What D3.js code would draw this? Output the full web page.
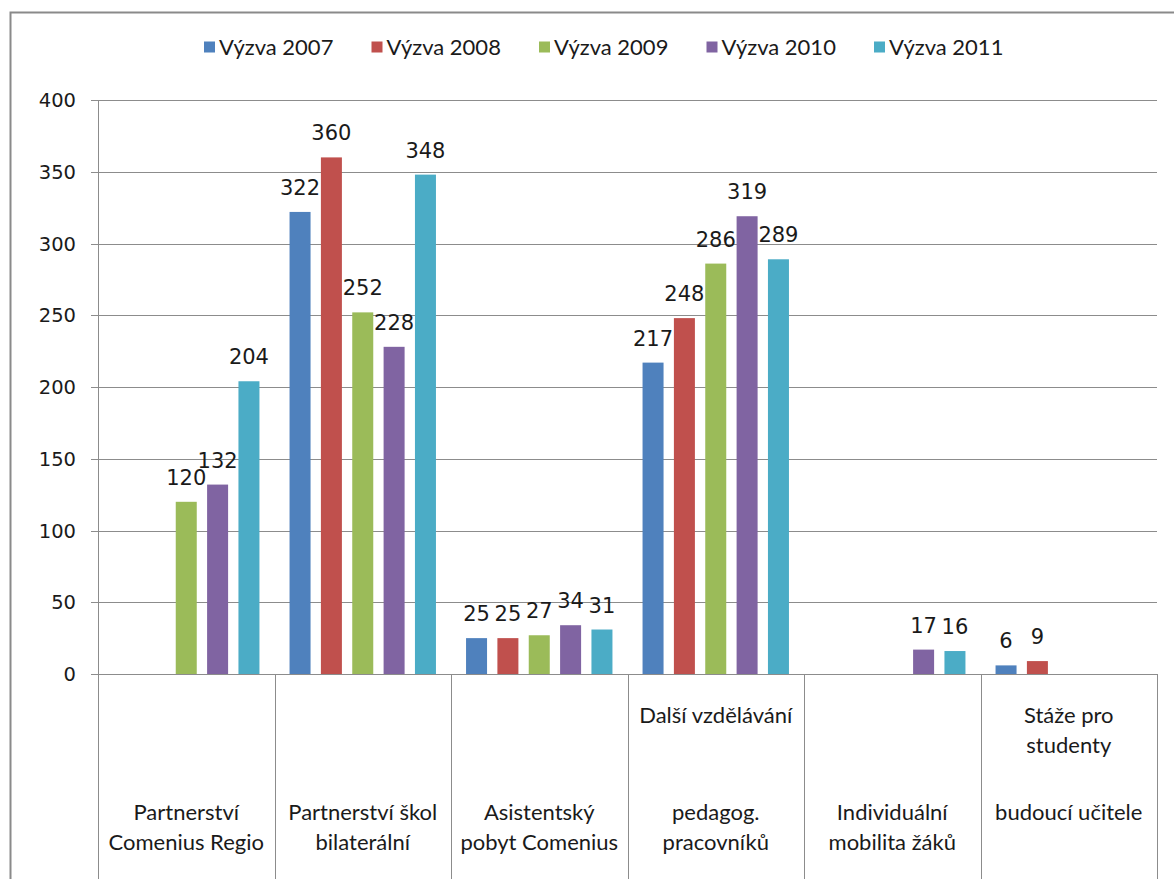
<!DOCTYPE html>
<html>
<head>
<meta charset="utf-8">
<script src="https://cdn.jsdelivr.net/npm/d3@7"></script>
<style>
  body { margin: 0; background: #fff; }
  svg { display: block; }
</style>
</head>
<body>
<svg id="chart" width="1174" height="879"></svg>
<script>
// data
const series = ["Výzva 2007", "Výzva 2008", "Výzva 2009", "Výzva 2010", "Výzva 2011"];
const colors = ["#4F81BD", "#C0504D", "#9BBB59", "#8064A2", "#4BACC6"];

const categories = ["regio", "skol", "asist", "dalsi", "indiv", "staze"];
// label lines: top lines and bottom lines (Excel kept blank rows in the cells)
const labelTop = [[], [], [], ["Další vzdělávání"], [], ["Stáže pro", "studenty"]];
const labelBottom = [
  ["Partnerství", "Comenius Regio"],
  ["Partnerství škol", "bilaterální"],
  ["Asistentský", "pobyt Comenius"],
  ["pedagog.", "pracovníků"],
  ["Individuální", "mobilita žáků"],
  ["budoucí učitele", ""]
];

const v2007 = [null, 322, 25, 217, null, 6];
const v2008 = [null, 360, 25, 248, null, 9];
const v2009 = [120, 252, 27, 286, null, null];
const v2010 = [132, 228, 34, 319, 17, null];
const v2011 = [204, 348, 31, 289, 16, null];
const values = [v2007, v2008, v2009, v2010, v2011];

const yTicks = [0, 50, 100, 150, 200, 250, 300, 350, 400];

const svg = d3.select("#chart");
const margin = { left: 98, top: 100, right: 1157, bottom: 674 };

const calibri = "Lato, 'Open Sans', sans-serif";
const verdana = "'DejaVu Sans', Verdana, sans-serif";

// outer chart frame (runs off the picture on right and bottom)
svg.append("rect")
   .attr("x", 10.5).attr("y", 12.5)
   .attr("width", 1200).attr("height", 900)
   .attr("fill", "none")
   .attr("stroke", "#8a8a8a")
   .attr("stroke-width", 2);

const x = d3.scaleBand()
            .domain(categories)
            .range([margin.left, margin.right])
            .padding(0);

const xInner = d3.scaleBand()
                 .domain(series)
                 .range([0, x.bandwidth()])
                 .paddingInner(0.33)
                 .paddingOuter(0.48);

const y = d3.scaleLinear()
            .domain([0, 400])
            .range([margin.bottom, margin.top]);

// gridlines
svg.append("g")
   .selectAll("line")
   .data(yTicks)
   .enter()
   .append("line")
   .attr("x1", margin.left - 7)
   .attr("x2", margin.right)
   .attr("y1", d => Math.round(y(d)) + 0.5)
   .attr("y2", d => Math.round(y(d)) + 0.5)
   .attr("stroke", "#8c8c8c")
   .attr("stroke-width", 1);

// y tick labels
svg.append("g")
   .selectAll("text")
   .data(yTicks)
   .enter()
   .append("text")
   .attr("x", margin.left - 22)
   .attr("y", d => y(d))
   .attr("dy", "0.36em")
   .attr("text-anchor", "end")
   .attr("font-family", verdana)
   .attr("font-size", 19.5)
   .attr("fill", "#1a1a1a")
   .text(d => d);

// category dividers running down below the axis
const bounds = categories.map(c => x(c)).concat([margin.right]);
svg.append("g")
   .selectAll("line")
   .data(bounds)
   .enter()
   .append("line")
   .attr("x1", d => Math.round(d) + 0.5)
   .attr("x2", d => Math.round(d) + 0.5)
   .attr("y1", (d, i) => i === 0 ? margin.top : margin.bottom)
   .attr("y2", 879)
   .attr("stroke", "#8c8c8c")
   .attr("stroke-width", 1);

// bars
const cats = svg.append("g")
   .selectAll("g")
   .data(categories)
   .enter()
   .append("g")
   .attr("transform", c => `translate(${x(c)},0)`);

const barData = (c, ci) => series.map((s, si) => ({ s: s, si: si, v: values[si][ci] }))
                                 .filter(d => d.v !== null);

cats.selectAll("rect")
    .data((c, ci) => barData(c, ci))
    .enter()
    .append("rect")
    .attr("x", d => xInner(d.s))
    .attr("y", d => y(d.v))
    .attr("width", xInner.bandwidth())
    .attr("height", d => y(0) - y(d.v))
    .attr("fill", d => colors[d.si]);

cats.selectAll("text")
    .data((c, ci) => barData(c, ci))
    .enter()
    .append("text")
    .attr("x", d => xInner(d.s) + xInner.bandwidth() / 2)
    .attr("y", d => y(d.v) - 17)
    .attr("text-anchor", "middle")
    .attr("font-family", verdana)
    .attr("font-size", 21)
    .attr("fill", "#1a1a1a")
    .text(d => d.v);

// axis line
svg.append("line")
   .attr("x1", margin.left - 7).attr("x2", margin.right)
   .attr("y1", Math.round(y(0)) + 0.5).attr("y2", Math.round(y(0)) + 0.5)
   .attr("stroke", "#8c8c8c");

// category labels
const labels = svg.append("g")
   .selectAll("g")
   .data(categories)
   .enter()
   .append("g")
   .attr("transform", c => `translate(${x(c) + x.bandwidth() / 2},0)`)
   .attr("font-family", calibri)
   .attr("font-size", 22)
   .attr("fill", "#1a1a1a")
   .attr("text-anchor", "middle");

labels.each(function (c, ci) {
  const g = d3.select(this);
  labelTop[ci].forEach((t, i) => {
    g.append("text").attr("y", 723 + i * 29.5).text(t);
  });
  labelBottom[ci].forEach((t, i) => {
    g.append("text").attr("y", 820 + i * 30).text(t);
  });
});

// legend
const legend = svg.append("g")
   .selectAll("g")
   .data(series)
   .enter()
   .append("g")
   .attr("transform", (s, i) => `translate(${204 + i * 167.5},47)`);

legend.append("rect")
      .attr("x", 0).attr("y", -5.5)
      .attr("width", 11).attr("height", 11)
      .attr("fill", (s, i) => colors[i]);

legend.append("text")
      .attr("x", 15)
      .attr("dy", "0.36em")
      .attr("font-family", calibri)
      .attr("font-size", 22)
      .attr("fill", "#1a1a1a")
      .text(s => s);
</script>
</body>
</html>
